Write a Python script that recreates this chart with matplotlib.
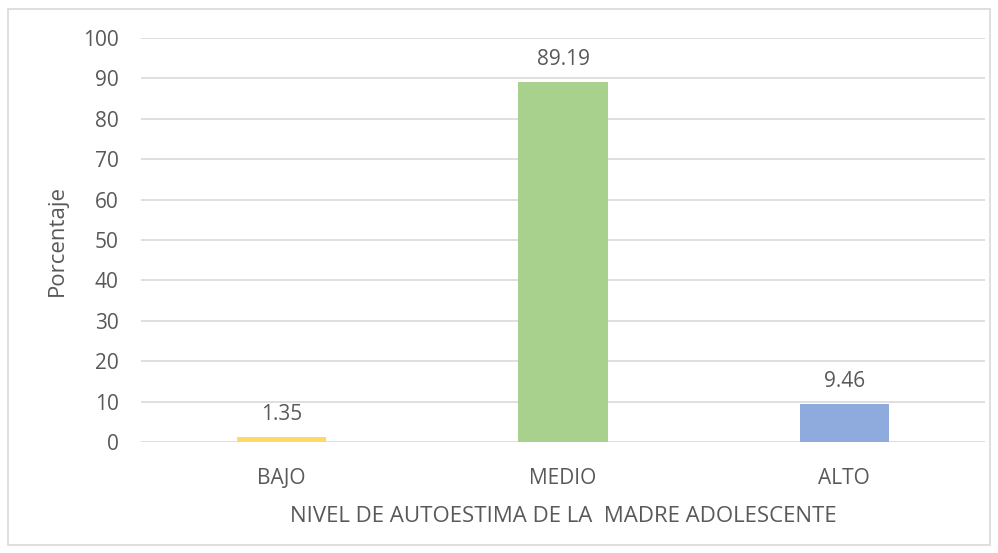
import matplotlib.pyplot as plt
from matplotlib.patches import Rectangle

categories = ['BAJO', 'MEDIO', 'ALTO']
values = [1.35, 89.19, 9.46]
colors = ['#ffd966', '#a9d18e', '#8faadc']
yticks = [0, 10, 20, 30, 40, 50, 60, 70, 80, 90, 100]

plt.rcParams['font.family'] = ['Open Sans', 'DejaVu Sans']
text_color = '#595959'

fig = plt.figure(figsize=(9.98, 5.53), dpi=100)
ax = fig.add_axes([0.1413, 0.2007, 0.8457, 0.7306])

x = range(len(categories))
ax.bar(x, values, width=0.317, color=colors, zorder=3)

for i, v in zip(x, values):
    ax.annotate(f'{v:.2f}', (i, v), xytext=(0, 8.5), textcoords='offset points',
                ha='center', va='bottom', fontsize=15, color=text_color)

ax.set_xlim(-0.5, 2.5)
ax.set_ylim(0, 100)
ax.set_yticks(yticks)
ax.set_xticks(list(x))
ax.set_xticklabels(categories)
ax.grid(axis='y', color='#d9d9d9', linewidth=1.2, zorder=0)
for s in ax.spines.values():
    s.set_visible(False)
ax.tick_params(length=0, labelsize=15, colors=text_color)
ax.tick_params(axis='y', pad=16)
ax.tick_params(axis='x', pad=19)

ax.set_ylabel('Porcentaje', fontsize=16, color=text_color, labelpad=11)
ax.set_xlabel('NIVEL DE AUTOESTIMA DE LA  MADRE ADOLESCENTE', fontsize=16,
              color=text_color, labelpad=12)

fig.patches.append(Rectangle((8 / 998, 1 - 545 / 553), 982 / 998, 536 / 553,
                             transform=fig.transFigure, fill=False,
                             edgecolor='#d9d9d9', linewidth=1.2))

fig.savefig('out.png', dpi=100)
